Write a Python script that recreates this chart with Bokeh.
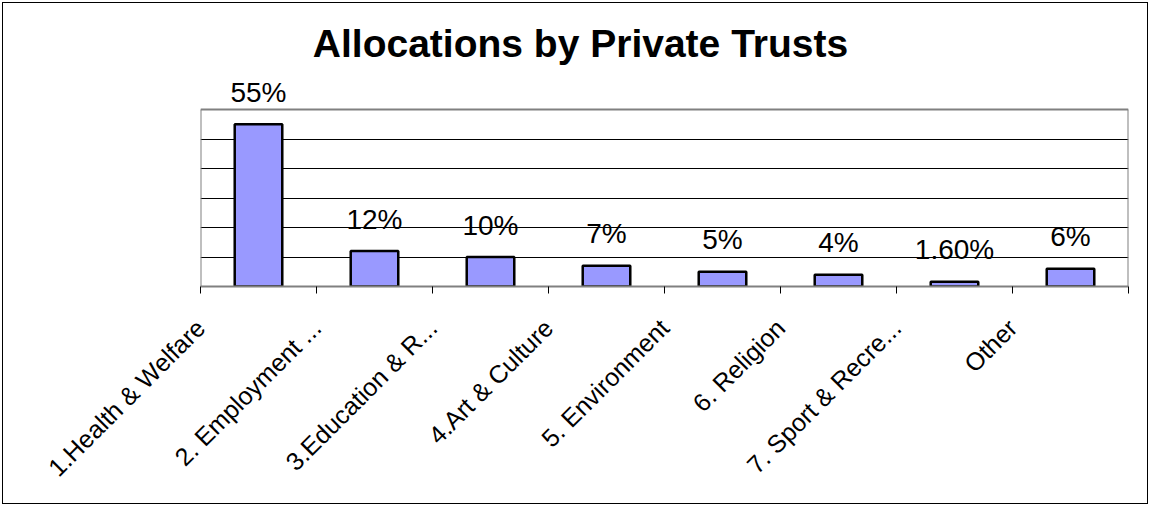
from math import pi
from bokeh.plotting import figure
from bokeh.models import (Range1d, FixedTicker, LinearAxis, Label, Grid, Span)
from bokeh.embed import file_html
from bokeh.resources import INLINE

# ---- data ----
title_text = "Allocations by Private Trusts"
categories = ["1.Health & Welfare", "2. Employment ...", "3.Education & R...",
              "4.Art & Culture", "5. Environment", "6. Religion",
              "7. Sport & Recre...", "Other"]
values = [0.55, 0.12, 0.10, 0.07, 0.05, 0.04, 0.016, 0.06]
value_labels = ["55%", "12%", "10%", "7%", "5%", "4%", "1.60%", "6%"]
grid_values = [0.1, 0.2, 0.3, 0.4, 0.5]
y_max = 0.6

n = len(categories)
centers = [i + 0.5 for i in range(n)]

FONT = "Liberation Sans"

# geometry (pixels): plot area 177px tall for 0..y_max; frame extends upward
# so that the value labels and title above the plot area are not clipped
area_h = 177
frame_h = 280
y_top = y_max * frame_h / area_h

p = figure(width=1146, height=502, output_backend="svg", toolbar_location=None,
           x_range=Range1d(0, n), y_range=Range1d(0, y_top),
           x_axis_location=None, y_axis_location=None,
           min_border_left=197, min_border_right=21,
           min_border_top=502 - 219 - frame_h, min_border_bottom=219)
p.styles = {"border": "1px solid black", "margin-left": "2px", "margin-top": "2px"}
p.background_fill_color = "white"
p.border_fill_color = "white"
p.outline_line_color = None

# only horizontal grid lines inside the plot area
p.center = []
p.add_layout(Grid(dimension=1, ticker=FixedTicker(ticks=grid_values),
                  grid_line_color="black", grid_line_width=1))

# plot-area border (grey): top line and the two sides
p.add_layout(Span(location=y_max, dimension="width", line_color="#808080", line_width=2))
p.segment(x0=[0, n], y0=[0, 0], x1=[0, n], y1=[y_max, y_max],
          line_color="#808080", line_width=2)

xaxis = LinearAxis(ticker=FixedTicker(ticks=list(range(n + 1))),
                   major_label_overrides={**{i: c for i, c in enumerate(categories)}, n: ""},
                   major_label_orientation=pi / 4,
                   major_label_text_font=FONT,
                   major_label_text_font_size="25px",
                   major_label_text_color="black",
                   major_label_standoff=30,
                   axis_line_color="#808080", axis_line_width=2,
                   major_tick_line_color="black", major_tick_in=0, major_tick_out=7,
                   minor_tick_line_color=None)
p.add_layout(xaxis, "below")

p.vbar(x=centers, top=values, bottom=0, width=0.41,
       fill_color="#9999FF", line_color="black", line_width=2.5)

for xc, v, lab in zip(centers, values, value_labels):
    p.add_layout(Label(x=xc, y=v, y_offset=32, text=lab,
                       text_align="center", text_baseline="alphabetic",
                       text_font=FONT, text_font_size="28px", text_color="black"))

p.add_layout(Label(x=380, y=243, x_units="screen", y_units="screen",
                   text=title_text, text_align="center", text_baseline="alphabetic",
                   text_font=FONT, text_font_style="bold", text_font_size="39px",
                   text_color="black"))

open("out.html", "w").write(file_html(p, INLINE))
